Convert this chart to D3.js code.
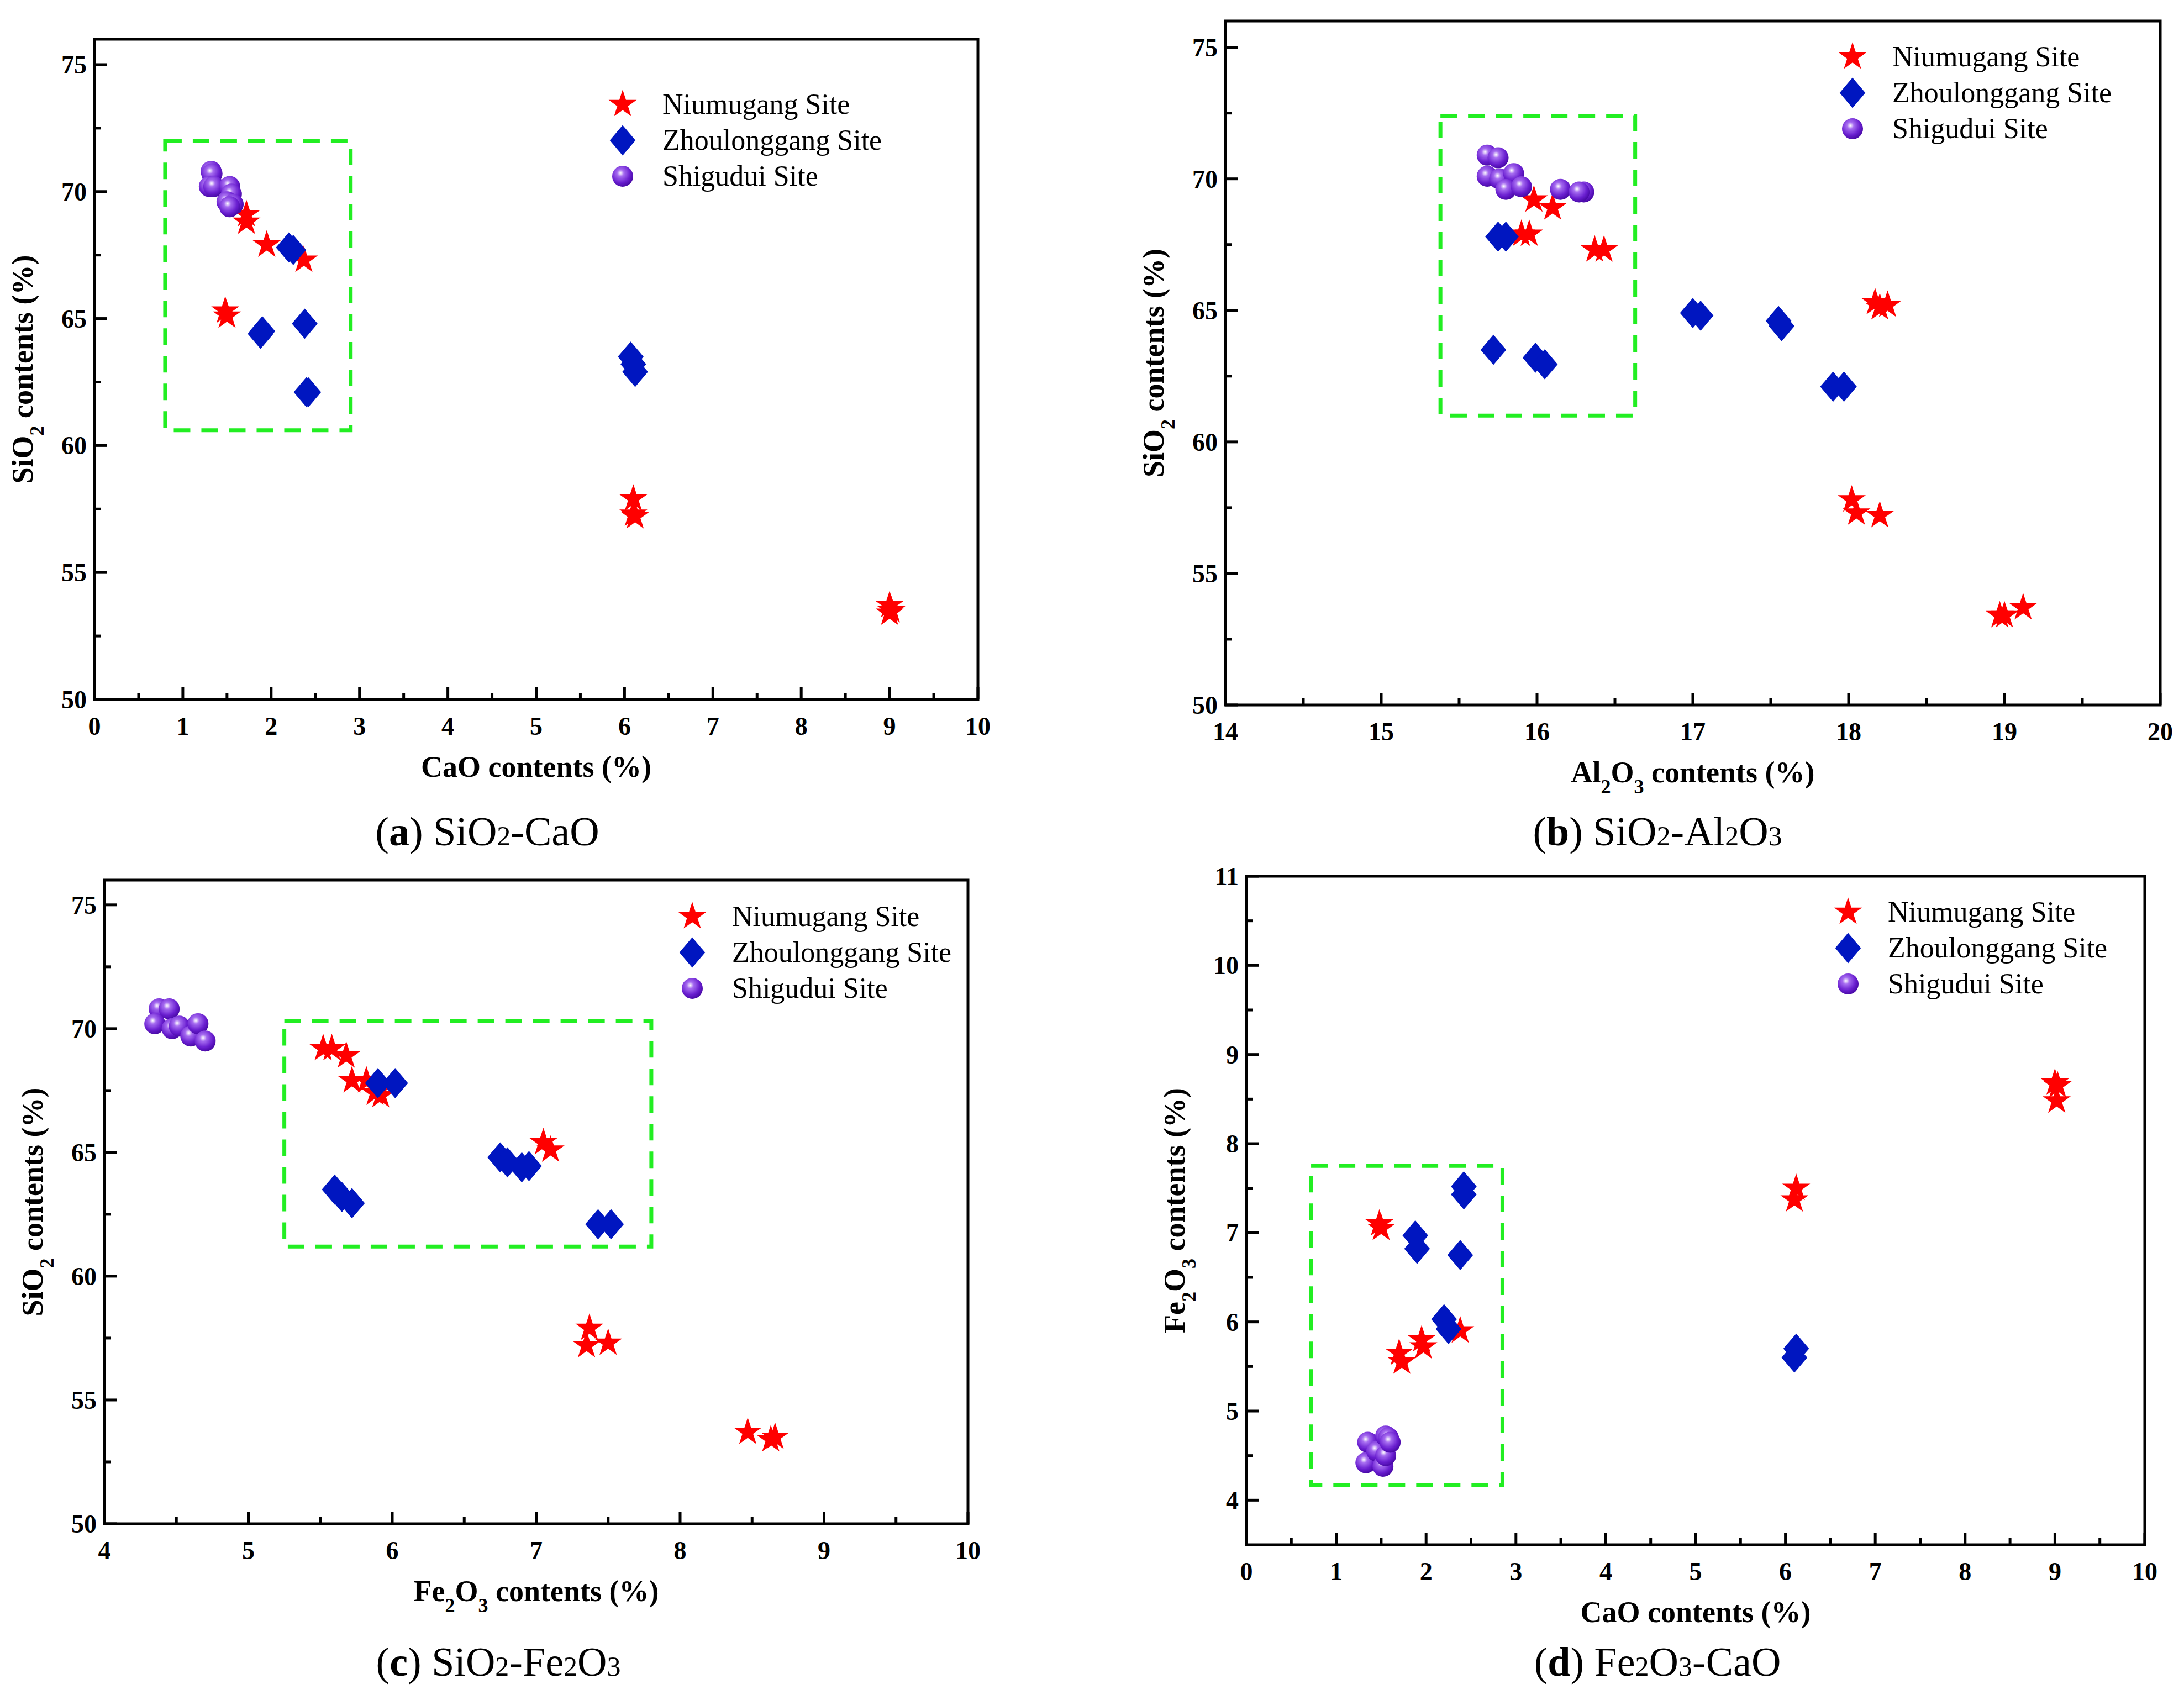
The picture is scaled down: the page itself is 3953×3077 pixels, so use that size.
<!DOCTYPE html>
<html><head><meta charset="utf-8">
<script src="https://cdn.jsdelivr.net/npm/d3@7"></script>
<style>body{margin:0;background:#fff}svg{display:block}text{font-family:"Liberation Serif","Times New Roman",serif}</style>
</head><body>
<svg id="chart" width="3953" height="3077"></svg>
<script>
// Panel (a) SiO2 vs CaO
var aNiu = [[1.72,69.1],[1.72,68.8],[1.95,67.9],[2.37,67.3],[1.48,65.3],[1.5,65.1],[6.1,57.9],[6.12,57.2],[6.1,57.3],[9.0,53.7],[9.0,53.4],[9.02,53.5]];
var aZhou = [[2.2,67.8],[2.25,67.7],[1.9,64.5],[1.88,64.4],[2.38,64.8],[2.42,62.1],[2.4,62.1],[6.07,63.5],[6.1,63.2],[6.12,62.9]];
var aShi = [[1.32,70.8],[1.33,70.7],[1.3,70.2],[1.35,70.2],[1.53,70.2],[1.55,69.9],[1.5,69.6],[1.57,69.5],[1.53,69.4]];
// Panel (b) SiO2 vs Al2O3
var bNiu = [[15.98,69.2],[16.1,68.9],[15.9,67.9],[15.95,67.9],[16.37,67.3],[16.43,67.3],[18.17,65.3],[18.2,65.1],[18.25,65.2],[18.02,57.8],[18.05,57.3],[18.2,57.2],[18.97,53.4],[19.0,53.4],[19.12,53.7]];
var bZhou = [[15.75,67.8],[15.8,67.8],[17.0,64.9],[17.05,64.8],[17.55,64.6],[17.57,64.4],[17.9,62.1],[17.97,62.1],[15.72,63.5],[15.99,63.2],[16.05,62.95]];
var bShi = [[15.68,70.9],[15.75,70.8],[15.68,70.1],[15.76,70.0],[15.85,70.2],[15.8,69.6],[15.9,69.7],[16.15,69.6],[16.3,69.5],[16.27,69.5]];
// Panel (c) SiO2 vs Fe2O3
var cNiu = [[5.52,69.2],[5.58,69.2],[5.68,68.9],[5.72,67.9],[5.82,67.9],[5.88,67.4],[5.92,67.3],[7.05,65.4],[7.1,65.1],[7.37,57.9],[7.35,57.2],[7.5,57.3],[8.47,53.7],[8.63,53.4],[8.66,53.5]];
var cZhou = [[5.9,67.8],[6.02,67.8],[6.75,64.8],[6.8,64.6],[6.9,64.4],[6.95,64.45],[7.43,62.1],[7.52,62.1],[5.6,63.5],[5.65,63.2],[5.72,62.95]];
var cShi = [[4.38,70.8],[4.45,70.8],[4.35,70.2],[4.47,70.0],[4.52,70.1],[4.6,69.7],[4.65,70.2],[4.7,69.5]];
// Panel (d) Fe2O3 vs CaO
var dNiu = [[1.48,7.1],[1.5,7.05],[1.7,5.65],[1.73,5.55],[1.95,5.8],[1.97,5.72],[2.38,5.9],[6.12,7.5],[6.1,7.37],[9.0,8.68],[9.03,8.65],[9.02,8.48]];
var dZhou = [[1.88,6.97],[1.9,6.82],[2.42,7.52],[2.42,7.43],[2.38,6.75],[2.2,6.03],[2.25,5.92],[6.1,5.6],[6.12,5.7]];
var dShi = [[1.35,4.65],[1.33,4.42],[1.45,4.55],[1.55,4.72],[1.58,4.7],[1.52,4.38],[1.55,4.5],[1.6,4.65]];

var seriesNames = ["Niumugang Site", "Zhoulonggang Site", "Shigudui Site"];

var svg = d3.select("#chart");
var defs = svg.append("defs");
var grad = defs.append("radialGradient").attr("id", "ball").attr("cx", "40%").attr("cy", "35%").attr("r", "65%");
grad.append("stop").attr("offset", "0%").attr("stop-color", "#ffffff");
grad.append("stop").attr("offset", "25%").attr("stop-color", "#a66cf0");
grad.append("stop").attr("offset", "70%").attr("stop-color", "#6a1fd0");
grad.append("stop").attr("offset", "100%").attr("stop-color", "#4a0aa8");

var starPath = d3.symbol().type(d3.symbolStar).size(800)();
var diamondPath = d3.symbol().type(d3.symbolSquare).size(1500)();

function drawStar(g, x, y) {
    g.append("path").attr("d", starPath).attr("transform", `translate(${x},${y})`).attr("fill", "#ff0000");
}
function drawDiamond(g, x, y) {
    g.append("path").attr("d", diamondPath).attr("transform", `translate(${x},${y}) scale(0.85,1) rotate(45)`).attr("fill", "#0016c0");
}
function drawBall(g, x, y) {
    g.append("circle").attr("cx", x).attr("cy", y).attr("r", 19).attr("fill", "url(#ball)");
}

// write text with subscripts
function richText(t, parts, sub) {
    parts.forEach(p => {
        if (p[1]) t.append("tspan").text(p[0]).attr("baseline-shift", "sub").attr("font-size", sub);
        else t.append("tspan").text(p[0]);
    });
}

function drawPanel(p) {
    var x = d3.scaleLinear().domain(p.xd).range([p.left, p.right]);
    var y = d3.scaleLinear().domain(p.yd).range([p.bottom, p.top]);
    var g = svg.append("g");

    // minor + major ticks, pointing inward
    var xt = d3.range(p.xd[0], p.xd[1] + 1e-9, p.xstep / 2);
    xt.forEach((v, i) => {
        var len = i % 2 == 0 ? 22 : 12;
        g.append("line").attr("x1", x(v)).attr("x2", x(v)).attr("y1", p.bottom).attr("y2", p.bottom - len).attr("stroke", "#000").attr("stroke-width", 5);
        if (i % 2 == 0) g.append("text").attr("x", x(v)).attr("y", p.bottom + 64).attr("text-anchor", "middle")
            .attr("font-size", 46).attr("font-weight", "bold").text(v);
    });
    var yt = d3.range(p.ymajor[0], p.yd[1] + 1e-9, p.ystep / 2);
    yt.forEach((v, i) => {
        var len = i % 2 == 0 ? 22 : 12;
        g.append("line").attr("y1", y(v)).attr("y2", y(v)).attr("x1", p.left).attr("x2", p.left + len).attr("stroke", "#000").attr("stroke-width", 5);
        if (i % 2 == 0 && v <= p.ymajor[1]) g.append("text").attr("x", p.left - 14).attr("y", y(v) + 16).attr("text-anchor", "end")
            .attr("font-size", 46).attr("font-weight", "bold").text(v);
    });
    g.append("rect").attr("x", p.left).attr("y", p.top).attr("width", p.right - p.left).attr("height", p.bottom - p.top)
        .attr("fill", "none").attr("stroke", "#000").attr("stroke-width", 5);

    // green dashed box
    g.append("rect").attr("x", x(p.box[0])).attr("y", y(p.box[3])).attr("width", x(p.box[1]) - x(p.box[0]))
        .attr("height", y(p.box[2]) - y(p.box[3])).attr("fill", "none").attr("stroke", "#22ee22")
        .attr("stroke-width", 7).attr("stroke-dasharray", "30,20");

    p.niu.forEach(d => drawStar(g, x(d[0]), y(d[1])));
    p.zhou.forEach(d => drawDiamond(g, x(d[0]), y(d[1])));
    p.shi.forEach(d => drawBall(g, x(d[0]), y(d[1])));

    // legend
    var fns = [drawStar, drawDiamond, drawBall];
    seriesNames.forEach((n, i) => {
        fns[i](g, p.leg[0], p.leg[1] + i * 65);
        g.append("text").attr("x", p.leg[0] + 72).attr("y", p.leg[1] + i * 65 + 17).attr("font-size", 52).text(n);
    });

    // axis titles
    var xtxt = g.append("text").attr("x", (p.left + p.right) / 2).attr("y", p.bottom + 140).attr("text-anchor", "middle")
        .attr("font-size", 54).attr("font-weight", "bold");
    richText(xtxt, p.xlab, 36);
    var ytxt = g.append("text").attr("transform", `translate(${p.left - 112},${(p.top + p.bottom) / 2}) rotate(-90)`)
        .attr("text-anchor", "middle").attr("font-size", 54).attr("font-weight", "bold");
    richText(ytxt, p.ylab, 36);

    // caption
    var cap = g.append("text").attr("x", p.capx).attr("y", p.capy).attr("text-anchor", "middle").attr("font-size", 74);
    cap.append("tspan").text("(");
    cap.append("tspan").text(p.letter).attr("font-weight", "bold");
    cap.append("tspan").text(") ");
    p.cap.forEach(c => {
        if (c[1]) cap.append("tspan").text(c[0]).attr("font-size", 50);
        else cap.append("tspan").text(c[0]);
    });
}

var sio2 = [["SiO"], ["2", true], [" contents (%)"]];
var cao = [["CaO contents (%)"]];

drawPanel({left: 171, right: 1770, top: 71, bottom: 1266, xd: [0, 10], yd: [50, 76], xstep: 1, ystep: 5, ymajor: [50, 75],
    box: [0.8, 2.9, 60.6, 72], niu: aNiu, zhou: aZhou, shi: aShi, leg: [1127, 189],
    xlab: cao, ylab: sio2, letter: "a", cap: [["SiO"], ["2", true], ["-CaO"]], capx: 882, capy: 1530});
drawPanel({left: 2218, right: 3910, top: 38, bottom: 1276, xd: [14, 20], yd: [50, 76], xstep: 1, ystep: 5, ymajor: [50, 75],
    box: [15.38, 16.63, 61, 72.4], niu: bNiu, zhou: bZhou, shi: bShi, leg: [3353, 103],
    xlab: [["Al"], ["2", true], ["O"], ["3", true], [" contents (%)"]], ylab: sio2, letter: "b",
    cap: [["SiO"], ["2", true], ["-Al"], ["2", true], ["O"], ["3", true]], capx: 3000, capy: 1530});
drawPanel({left: 189, right: 1752, top: 1593, bottom: 2758, xd: [4, 10], yd: [50, 76], xstep: 1, ystep: 5, ymajor: [50, 75],
    box: [5.25, 7.8, 61.2, 70.3], niu: cNiu, zhou: cZhou, shi: cShi, leg: [1253, 1659],
    xlab: [["Fe"], ["2", true], ["O"], ["3", true], [" contents (%)"]], ylab: sio2, letter: "c",
    cap: [["SiO"], ["2", true], ["-Fe"], ["2", true], ["O"], ["3", true]], capx: 902, capy: 3033});
drawPanel({left: 2256, right: 3882, top: 1586, bottom: 2796, xd: [0, 10], yd: [3.5, 11], xstep: 1, ystep: 1, ymajor: [4, 11],
    box: [0.72, 2.85, 4.17, 7.75], niu: dNiu, zhou: dZhou, shi: dShi, leg: [3345, 1651],
    xlab: cao, ylab: [["Fe"], ["2", true], ["O"], ["3", true], [" contents (%)"]], letter: "d",
    cap: [["Fe"], ["2", true], ["O"], ["3", true], ["-CaO"]], capx: 3000, capy: 3033});
</script>
</body></html>
